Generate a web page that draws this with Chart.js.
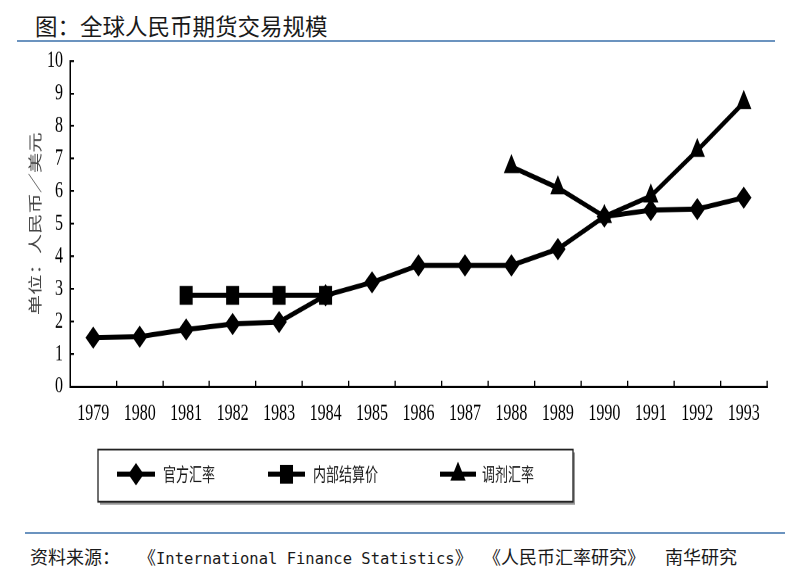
<!DOCTYPE html>
<html>
<head>
<meta charset="utf-8">
<script src="https://cdn.jsdelivr.net/npm/chart.js"></script>
<style>
	body{margin:0;width:800px;height:573px;background:#fff;position:relative;overflow:hidden;font-family:"Noto Sans CJK SC",sans-serif;color:#1a1a1a}
	#title{position:absolute;left:35px;top:10px;font-size:22.5px;line-height:30px;white-space:nowrap}
	.rule{position:absolute;height:2px;background:#6b93bf}
	#wrap{position:absolute;left:0;top:45px;width:800px;height:324px;transform:scaleY(1.45);transform-origin:0 0}
	.src{position:absolute;top:545px;font-size:18px;line-height:22px;white-space:pre}
	.mono{font-family:"DejaVu Sans Mono",monospace;font-size:15.5px}
</style>
</head>
<body>
<div id="title">图：全球人民币期货交易规模</div>
<div class="rule" style="top:40px;left:17px;width:758px"></div>
<div id="wrap"><canvas id="chart" width="800" height="324"></canvas></div>
<div class="rule" style="top:532px;left:25px;width:760px"></div>
<div class="src" style="left:30px">资料来源：</div>
<div class="src" style="left:138px">《<span class="mono">International Finance Statistics</span>》</div>
<div class="src" style="left:483px">《人民币汇率研究》</div>
<div class="src" style="left:665px">南华研究</div>
<script>
	// values (人民币/美元)
	const years = ['1979','1980','1981','1982','1983','1984','1985','1986','1987','1988','1989','1990','1991','1992','1993'];
	const officialRate = [1.5, 1.53, 1.75, 1.92, 1.98, 2.8, 3.2, 3.72, 3.72, 3.72, 4.22, 5.22, 5.42, 5.45, 5.8];
	const internalRate = [null, null, 2.8, 2.8, 2.8, 2.8, null, null, null, null, null, null, null, null, null];
	const swapRate = [null, null, null, null, null, null, null, null, null, 6.75, 6.1, 5.22, 5.85, 7.25, 8.72];
	const seriesNames = ['官方汇率', '内部结算价', '调剂汇率'];
	const yTitle = '单位：人民币／美元';

	const tickFont = {family: 'Liberation Serif', size: 16};

	function series(label, data, style, radius){
		return {
			label: label,
			data: data,
			borderColor: '#000',
			backgroundColor: '#000',
			borderWidth: 3.5,
			pointStyle: style,
			pointRadius: radius,
			pointHoverRadius: radius,
			pointBorderWidth: 1,
			tension: 0,
			spanGaps: false
		};
	}

	// legend drawn in a boxed row like the original
	const boxLegend = {
		id: 'boxLegend',
		afterDraw(chart){
			const ctx = chart.ctx;
			const top = 279, bottom = 315, left = 98, right = 573, cy = 296;
			ctx.save();
			ctx.fillStyle = '#9a9a9a';
			ctx.fillRect(left + 2, top + 2, right - left, bottom - top);
			ctx.fillStyle = '#fff';
			ctx.fillRect(left, top, right - left, bottom - top);
			ctx.strokeStyle = '#222';
			ctx.lineWidth = 1.3;
			ctx.strokeRect(left, top, right - left, bottom - top);

			const spots = [[117, 155, 163], [268, 305, 313], [440, 476, 482]];
			ctx.font = '13px "Noto Sans CJK SC"';
			ctx.textBaseline = 'middle';
			chart.data.datasets.forEach((ds, i) => {
				const s = spots[i];
				ctx.strokeStyle = ds.borderColor;
				ctx.lineWidth = ds.borderWidth;
				ctx.beginPath();
				ctx.moveTo(s[0], cy);
				ctx.lineTo(s[1], cy);
				ctx.stroke();
				ctx.fillStyle = ds.backgroundColor;
				ctx.lineWidth = 1;
				Chart.helpers.drawPoint(ctx, {pointStyle: ds.pointStyle, radius: ds.pointRadius, rotation: 0, borderWidth: 1}, (s[0] + s[1]) / 2, cy);
				ctx.fillStyle = '#1a1a1a';
				ctx.fillText(ds.label, s[2], cy);
			});
			ctx.restore();
		}
	};

	new Chart(document.getElementById('chart').getContext('2d'), {
		type: 'line',
		data: {
			labels: years,
			datasets: [
				series(seriesNames[0], officialRate, 'rectRot', 7),
				series(seriesNames[1], internalRate, 'rect', 8.5),
				series(seriesNames[2], swapRate, 'triangle', 7.8)
			]
		},
		options: {
			responsive: false,
			animation: false,
			devicePixelRatio: 2,
			layout: {padding: {top: 11, right: 33, bottom: 58.5, left: 0}},
			plugins: {
				legend: {display: false},
				tooltip: {enabled: false}
			},
			scales: {
				x: {
					offset: true,
					grid: {offset: true, drawOnChartArea: false, tickLength: -4, color: '#000', lineWidth: 1.3},
					border: {color: '#000', width: 1.5},
					ticks: {font: tickFont, color: '#000', padding: 13, maxRotation: 0, autoSkip: false},
					afterFit(s){ s.height = 30; }
				},
				y: {
					min: 0,
					max: 10,
					grid: {drawOnChartArea: false, tickLength: -4, color: '#000', lineWidth: 1.3},
					border: {color: '#000', width: 1.5},
					ticks: {stepSize: 1, autoSkip: false, font: tickFont, color: '#000', padding: 11},
					title: {display: true, text: yTitle, color: '#444', font: {family: 'Noto Sans CJK SC', size: 14}, padding: {top: 27, bottom: 0}},
					afterFit(s){ s.width = 70; s.paddingTop = 0; s.paddingBottom = 0; }
				}
			}
		},
		plugins: [boxLegend]
	});
</script>
</body>
</html>
